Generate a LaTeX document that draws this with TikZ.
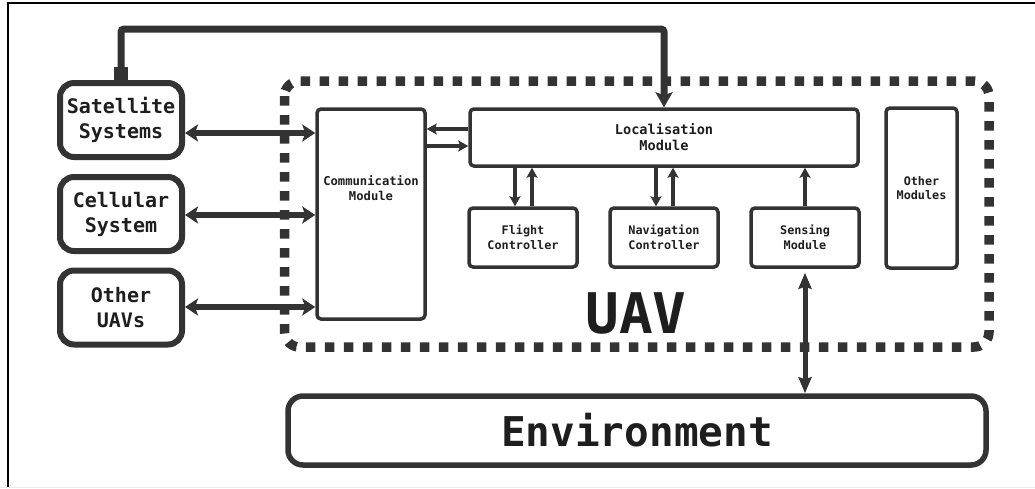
\documentclass[tikz,border=0pt]{standalone}
\usepackage{fontspec}
\setmainfont{DejaVu Sans Mono}
\usetikzlibrary{arrows.meta,calc}
\definecolor{ink}{HTML}{333333}
\definecolor{txt}{HTML}{1E1E1E}
\begin{document}
\begin{tikzpicture}[x=1pt,y=-1pt,
  extbox/.style={draw=ink, fill=white, line width=6pt, rounded corners=14pt, minimum width=122pt, minimum height=74pt, inner sep=0pt, align=center, font=\bfseries\fontsize{20}{25}\selectfont, text=txt},
  modbox/.style={draw=ink, fill=white, line width=3.5pt, rounded corners=4pt, inner sep=0pt, align=center, font=\bfseries\fontsize{11.8}{14.5}\selectfont, text=txt},
  dblarrow/.style={draw=ink, line width=6pt, {Stealth[length=13pt,width=17pt,inset=3pt]}-{Stealth[length=13pt,width=17pt,inset=3pt]}},
  smallarrow/.style={draw=ink, line width=3.5pt, -{Stealth[length=10pt,width=11pt,inset=2pt]}},
  boundary/.style={draw=ink, line width=9.5pt, dash pattern=on 9.5pt off 9.5pt, rounded corners=15pt}
]
\useasboundingbox (0,0) rectangle (1035,488);
\fill[white] (0,0) rectangle (1035,488);
% outer frame
\draw[black, line width=2.5pt] (8,488) -- (8,3) -- (1035,3);
\draw[gray!15, line width=1pt] (0,487) -- (1035,487);

% UAV boundary
\draw[boundary] (284.5,81) rectangle (989,347);

% external boxes
\node[extbox] (sat) at (121,120) {Satellite\\Systems};
\node[extbox] (cell) at (121,214) {Cellular\\System};
\node[extbox] (other) at (121,307.5) {Other\\UAVs};

% modules
\node[modbox, minimum width=108pt, minimum height=210pt,
  label={[font=\bfseries\fontsize{12.2}{14.5}\selectfont, text=txt, align=center, yshift=26pt]center:{Communication\\Module}}] (comm) at (371,214) {};
\node[modbox, minimum width=388pt, minimum height=57pt, font=\bfseries\fontsize{13.6}{16}\selectfont] (loc) at (664,137.5) {Localisation\\Module};
\node[modbox, minimum width=108pt, minimum height=59pt] (flight) at (523,237.5) {Flight\\Controller};
\node[modbox, minimum width=108pt, minimum height=59pt] (nav) at (664,237.5) {Navigation\\Controller};
\node[modbox, minimum width=108pt, minimum height=59pt] (sens) at (805,237.5) {Sensing\\Module};
\node[modbox, minimum width=71pt, minimum height=160pt] (othm) at (921.5,188) {Other\\Modules};

% environment
\node[draw=ink, fill=white, line width=5.5pt, rounded corners=15pt, minimum width=698pt, minimum height=69pt, inner sep=0pt, font=\bfseries\fontsize{41}{45}\selectfont, text=txt] (env) at (637,430.5) {Environment};

% UAV label
\node[inner sep=0pt, font=\bfseries\fontsize{56}{60}\selectfont, text=txt] (uav) at (636,313) {UAV};

% external links
\draw[dblarrow] ($(sat.east)+(0,13)$) coordinate (s1) -- (s1 -| comm.west);
\draw[dblarrow] ($(cell.east)+(0,1)$) coordinate (c1) -- (c1 -| comm.west);
\draw[dblarrow] ($(other.east)+(0,-0.5)$) coordinate (o1) -- (o1 -| comm.west);

% satellite to localisation
\coordinate (bend) at (0,29);
\fill[ink] ($(sat.north)+(-7,-13)$) rectangle ($(sat.north)+(7,0)$);
\draw[ink, line width=7pt, rounded corners=3pt, -{Stealth[length=15pt,width=17pt,inset=3pt]}] (sat.north) -- (sat.north |- bend) -| (loc.north);

% comm <-> loc
\draw[smallarrow] ($(loc.west)+(0,-8.5)$) coordinate (l1) -- (l1 -| comm.east);
\coordinate (l2) at ($(loc.west)+(0,8.5)$);
\draw[smallarrow] (l2 -| comm.east) -- (l2);

% loc <-> controllers
\draw[smallarrow] ($(loc.south)+(-149,0)$) coordinate (f1) -- (f1 |- flight.north);
\draw[smallarrow] ($(flight.north)+(9,0)$) coordinate (f2) -- (f2 |- loc.south);
\draw[smallarrow] ($(loc.south)+(-8,0)$) coordinate (n1) -- (n1 |- nav.north);
\draw[smallarrow] ($(nav.north)+(9,0)$) coordinate (n2) -- (n2 |- loc.south);
\draw[smallarrow] (sens.north) -- (sens.north |- loc.south);

% sensing <-> environment
\draw[ink, line width=5pt, {Stealth[length=16pt,width=13pt,inset=2pt]}-{Stealth[length=16pt,width=13pt,inset=2pt]}] ($(sens.south)+(0,4)$) -- (sens.south |- env.north);
\end{tikzpicture}
\end{document}
